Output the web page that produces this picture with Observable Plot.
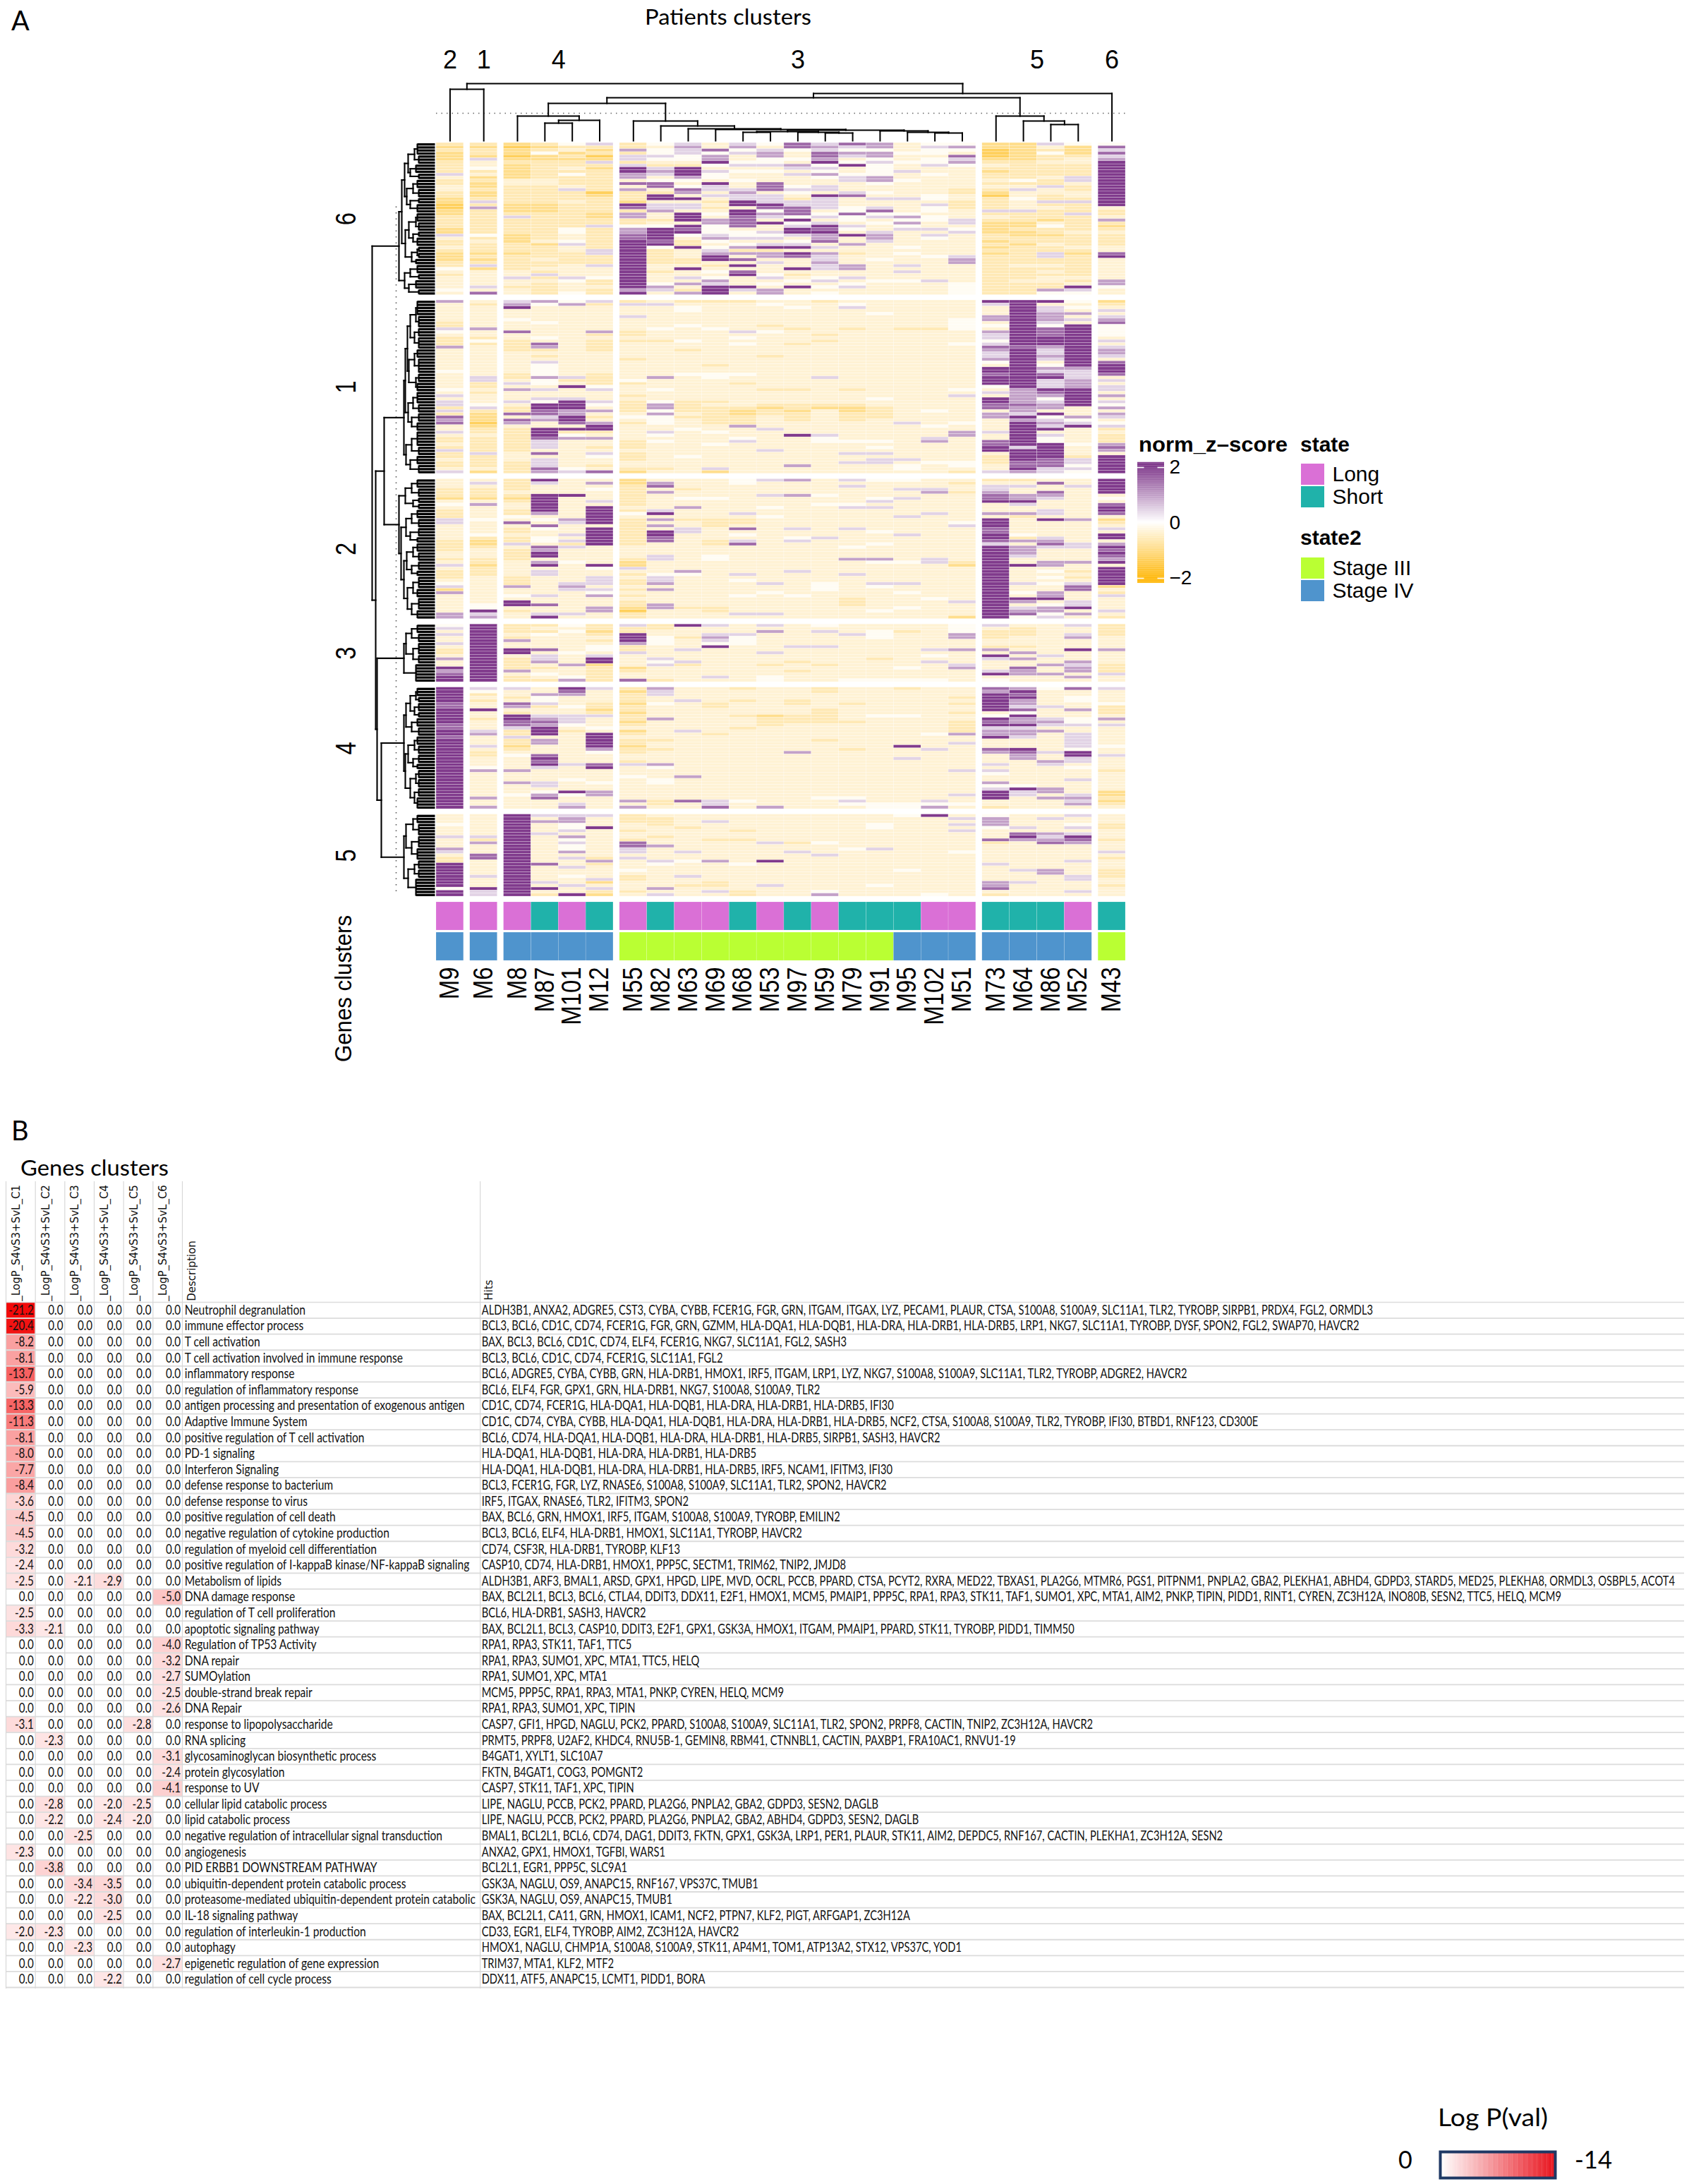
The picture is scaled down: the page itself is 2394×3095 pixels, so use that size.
<!DOCTYPE html>
<html><head><meta charset="utf-8">
<script src="https://cdn.jsdelivr.net/npm/d3@7"></script>
<script src="https://cdn.jsdelivr.net/npm/@observablehq/plot@0.6"></script>
<style>html,body{margin:0;padding:0;background:#fff}#page{position:relative;width:2394px;height:3095px;overflow:hidden;background:#fff}</style>
</head><body><div id="page"></div>
<script>
// ---------- patients ----------
const patientGroups=[["2",["M9"]],["1",["M6"]],["4",["M8","M87","M101","M12"]],["3",["M55","M82","M63","M69","M68","M53","M97","M59","M79","M91","M95","M102","M51"]],["5",["M73","M64","M86","M52"]],["6",["M43"]]];
const states=["Long","Long","Long","Short","Long","Short","Long","Short","Long","Long","Short","Long","Short","Long","Short","Short","Short","Long","Long","Short","Short","Short","Long","Short"];
const stages=["IV","IV","IV","IV","IV","IV","III","III","III","III","III","III","III","III","III","III","IV","IV","IV","IV","IV","IV","IV","III"];
// ---------- heat levels: one string per patient, one digit per gene row ----------
const levelValues=[-1.35,-0.95,-0.62,-0.36,-0.1,0.45,0.95,1.5,2.0];
const heatC6=[
"2121112222 5322332211 0011222211 5322321112 2432333343",
"2122153342 3121121125 2622222222 4232221212 5133333537",
"1011012111 1133222222 1112522222 1112221222 2233533233",
"2124112222 2233222222 1112222222 2231222232 2325232222",
"4231212232 4222352223 2222222244 3345332222 3333543334",
"5212015212 2222220122 2221122522 2222255222 5333422322",
"2262552588 6637362221 8726622466 7788888888 8888888868",
"4344543256 5347732883 5563323488 8878422222 3323334653",
"5655443288 8643476383 5538883878 4322833322 3833536326",
"3374668435 4438553532 3234366444 5643456883 2343465888",
"5645334534 3343356558 8388777734 4534626373 8378333853",
"4356644534 3337773555 8746538335 4535826635 3334534366",
"7743343653 5333454325 5777484588 5345838733 3832343833",
"5657768454 6433553855 5534535878 6673536556 5533453434",
"7546534833 4553335733 3447443543 8336332333 6633534533",
"6646645444 4664334353 3574534335 6653333343 3333343333",
"3334334335 3343333353 3334646453 3333434333 5353343333",
"4544344533 4333333443 5443443353 5433333433 3333353333",
"4643756433 3333322332 2233355345 3333333566 3333334444",
"1100012321 2232321022 2252321111 2212121222 2222222222",
"1111112222 2242353343 3352221121 1221222222 3222232222",
"5324223222 2322533225 2322213422 1223225522 3232332264",
"4111233222 2553223325 2225222223 2222321222 2222323854",
"4757568888 8888888888 8322362123 2222337833 3333366433"];
const heatC1=[
"6333333225 4322263333 3334333334 3535525276 7335322325 2232235",
"3233333336 3324233333 3333355223 2333452111 0122322222 5222231",
"5683334333 7332222333 3333223536 3335322737 6322222222 3332222",
"6433333433 3343762323 5444464435 3354887756 3388875553 7355576",
"4633333333 3333333333 3333352383 3358886688 7382463333 3333345",
"5233333333 6232222333 3333222245 3335436323 6882363323 5433237",
"2533353333 2232333332 3333334233 3232222343 2333332223 2223321",
"3533333334 3332333333 3333363334 3334664644 4335434333 3333323",
"2344333343 3334332333 3333433333 3332222323 3343333333 3433333",
"2333333334 3333333333 3233443333 3332322222 2334333433 3333351",
"2333333333 5343433333 3333433233 3333321122 2633345333 3333333",
"3433333323 4333333323 3333333332 3333212233 3353333335 3333333",
"3343333332 3333233333 3333333332 3333221222 3333833333 3333633",
"2333333333 3232333333 3333353333 3333213333 3333544333 3333333",
"3453333332 3333333333 3333333332 3333211222 3333334333 5335333",
"3333433333 3333333333 3333333333 3343322223 3333334343 5355333",
"3333333332 3333333333 3333333333 3333333333 5333333333 3353443",
"3333333332 3333333333 3333333333 3333334333 3433356333 3334333",
"3333334444 3333433333 3333333334 3533333333 4336633333 3334432",
"8533366343 6554576556 4388788843 5388773663 3335337788 3222335",
"8888888888 8888878888 8888888886 6666766586 8888888858 8887786",
"8355666547 7788865565 3465785558 7645663845 6583544888 8877755",
"4343635388 8888888888 8865556668 8888833364 5833333433 3255454",
"1235356744 4435356653 7888735355 3635463653 4523222676 3888888"];
const heatC2=[
"3332221343 2225533333 2222332353 2223451633 333366",
"3532221363 3334333342 1123332212 2233333333 344856",
"2222321233 2243732232 2532222333 3322263343 883233",
"8533388888 8634374334 4376883683 5533333353 373358",
"3333383333 3336533353 5253333433 3333565333 333353",
"3634333538 8888838888 8833333384 3355535463 336633",
"1122222223 2432222222 2233332115 3232232323 221022",
"3673633333 5836363887 7333355333 3455636333 366333",
"3332334336 3332335533 3333333333 6433333333 332333",
"3333334333 3332223333 2233344333 3333333333 332233",
"4433333333 3532237343 5733333333 3534333343 333353",
"5333353334 3343333333 3333333333 3333533433 333353",
"6333363333 3333335334 5333333333 5333333343 333333",
"3333343343 3333333335 3333333333 3333444333 333333",
"5353333345 3333335333 3343336333 3533333332 223333",
"4333334535 3333333433 3433336433 3333543333 333433",
"4335335333 3353333353 3333333433 3333533433 334333",
"3335633333 3533333333 3333335533 3333333334 333333",
"3233233333 3333453333 3333333213 3333333333 533331",
"2355677833 3638887788 7588888888 8888888888 888888",
"2353366853 3623333342 6366653383 3333533438 635674",
"3733765333 5538333335 6753333663 4343433668 346645",
"3353333333 3336333333 3553333633 2323577333 558363",
"8888834378 8731235388 3687876838 8888813253 333532"];
const heatC3=[
"4535335322 363386788",
"8888888888 888888888",
"2223263388 322226322",
"2324333373 556323432",
"4343333334 333633346",
"2212323443 588122222",
"5228886225 333312337",
"2233444333 354533332",
"8333233353 335233333",
"5335654833 333333353",
"3335444333 333333333",
"5363333335 333233344",
"3333333533 332332333",
"4353333533 333233333",
"3335333333 333333334",
"3344433333 323333334",
"3323333333 333343334",
"3333333353 435333334",
"4446633363 333563333",
"5322233263 853335834",
"3222333236 363376633",
"3333333333 533633633",
"5335633383 336566363",
"2222333363 333222533"];
const heatC4=[
"8888877888 8877887888 8888888888 8888888888",
"5423233833 2333563335 3223334633 3333336336",
"5332376328 8775225221 2343333633 3633343333",
"3364452335 6768883663 3378785333 3553467333",
"8763334335 5543233333 3333353333 4333843356",
"5333322125 3334388888 6433378333 3433663333",
"2122212212 2123123221 2233253334 3333333636",
"6553343333 6333333233 2333364333 4433333223",
"3333533333 3333533333 3333333336 3333333733",
"3333322333 3333323333 3333333333 3333333557",
"2333233332 3332333333 3333333333 3333333433",
"3333333331 2223333333 3333333333 3333333336",
"3333223332 2233333333 3633333333 3333333333",
"2233333222 2233333233 3333333333 3333334333",
"3333323333 3233333333 2333333333 3333334543",
"3333333334 3333333333 3333333333 3333333344",
"2333333334 3333333338 3335333333 3333333344",
"3333333333 3333343333 5333333333 3333333546",
"3332323323 3222263353 3333333533 3333353343",
"7688888834 8785668333 7633353543 3645888332",
"6878665748 6685665333 8766333333 3348553333",
"4333335333 5653633333 3533653333 3336636333",
"7334433633 4453355555 4885534333 5333356563",
"5333342223 6353333334 3353333233 3333112123"];
const heatC5=[
"3334333533 3653228888 8888488",
"3333333526 3337733333 5333855",
"8888888888 8888888888 8888888",
"5363335333 3333337333 3353832",
"5664453645 4463533533 4335338",
"5333833333 3333262333 3513521",
"2223323327 7553533343 2233323",
"3222333233 6333354333 3333635",
"3333233333 3353343333 5332333",
"3353333323 3333363333 3322353",
"3333323323 3333334333 3333322",
"3333333335 3333383333 3335333",
"3333333332 3353333333 3333333",
"3333333334 3335333333 3333346",
"3333333333 3433333333 3333333",
"3334433333 3533333333 3334333",
"4333333333 3333333343 3333333",
"8333333333 3333333333 3333334",
"3535353333 3343333333 3333333",
"4666433372 3333335333 3366732",
"3333537863 3333333353 3353333",
"3533336567 3333333366 3333333",
"5334535876 3333353333 5533353",
"3332233323 3353233322 2332333"];
// ---------- gene clusters ----------
const geneClusters=["6","1","2","3","4","5"];
const geneRows=[50,57,46,19,40,27];
const heatByCluster=[heatC6,heatC1,heatC2,heatC3,heatC4,heatC5];
// ---------- dendrograms: [mergeHeight, left, right]; gene leaves are [mergeHeight, leafCount] ----------
const colTree=[81,[73,"M9","M6"],[67,[61,[53,[35,"M8",[29,[25,"M87","M101"],"M12"]],[28,"M55",[21,"M82",[17,"M63",[16,"M69",[15,[13,[12,"M68","M53"],[12,"M97",[11,"M59","M79"]]],[14,"M91",[12,"M95",[11,"M102","M51"]]]]]]]]],[35,"M73",[28,"M64",[23,"M86","M52"]]]],"M43"]];
const treeC6=[51,[47,[43,[38,[29,[25,4],[23,3]],[35,[27,3],[23,2]]],[40,[31,[25,3],[23,3]],[35,[23,2],[25,3]]]],[42,[37,[27,[25,3],[23,3]],[31,[23,2],[25,3]]],[33,[25,[23,2],[23,2]],[27,2]]]],[43,[35,[25,3],[23,2]],[37,[27,3],[23,2]]]];
const treeC1=[44,[42,[39,[35,[27,[25,5],[23,4]],[29,[23,3],[23,4]]],[37,[29,[25,3],[23,5]],[27,[23,3],[25,3]]]],[38,[31,[25,4],[23,3]],[33,[23,3],[25,3]]]],[41,[33,[25,5],[23,3]],[35,[25,3],[23,3]]]];
const treeC2=[51,[42,[33,[25,3],[23,3]],[31,[23,2],[23,2]]],[48,[41,[33,[25,3],[23,3]],[35,[23,3],[25,2]]],[44,[40,[31,[25,3],[23,3]],[33,[23,3],[25,2]]],[39,[31,[23,4],[25,3]],[33,[23,4],[25,3]]]]]];
const treeC3=[44,[41,[33,[25,3],[23,3]],[31,[23,4],[23,3]]],[27,6]];
const treeC4=[44,[41,[35,[27,[25,3],[23,2]],[29,[23,3],[23,2]]],[33,[25,3],[23,3]]],[42,[38,[29,[25,3],[23,3]],[31,[23,3],[25,2]]],[35,[27,[23,3],[23,3]],[29,[23,3],[25,4]]]]];
const treeC5=[44,[41,[31,[25,3],[23,4]],[33,[23,4],[25,4]]],[38,[29,[23,3],[23,3]],[27,6]]];
const geneTrees=[treeC6,treeC1,treeC2,treeC3,treeC4,treeC5];
const clusterTree=[89,0,[84,[72,1,2],[82,3,[76,4,5]]]];
// ---------- enrichment table ----------
const terms=["Neutrophil degranulation","immune effector process","T cell activation","T cell activation involved in immune response","inflammatory response","regulation of inflammatory response","antigen processing and presentation of exogenous antigen","Adaptive Immune System","positive regulation of T cell activation","PD-1 signaling","Interferon Signaling","defense response to bacterium","defense response to virus","positive regulation of cell death","negative regulation of cytokine production","regulation of myeloid cell differentiation","positive regulation of I-kappaB kinase/NF-kappaB signaling","Metabolism of lipids","DNA damage response","regulation of T cell proliferation","apoptotic signaling pathway","Regulation of TP53 Activity","DNA repair","SUMOylation","double-strand break repair","DNA Repair","response to lipopolysaccharide","RNA splicing","glycosaminoglycan biosynthetic process","protein glycosylation","response to UV","cellular lipid catabolic process","lipid catabolic process","negative regulation of intracellular signal transduction","angiogenesis","PID ERBB1 DOWNSTREAM PATHWAY","ubiquitin-dependent protein catabolic process","proteasome-mediated ubiquitin-dependent protein catabolic","IL-18 signaling pathway","regulation of interleukin-1 production","autophagy","epigenetic regulation of gene expression","regulation of cell cycle process"];
const logpC1=[-21.2,-20.4,-8.2,-8.1,-13.7,-5.9,-13.3,-11.3,-8.1,-8.0,-7.7,-8.4,-3.6,-4.5,-4.5,-3.2,-2.4,-2.5,0,-2.5,-3.3,0,0,0,0,0,-3.1,0,0,0,0,0,0,0,-2.3,0,0,0,0,-2.0,0,0,0];
const logpC2={21:-2.1,28:-2.3,32:-2.8,33:-2.2,36:-3.8,40:-2.3};
const logpC3={18:-2.1,34:-2.5,37:-3.4,38:-2.2,41:-2.3};
const logpC4={18:-2.9,32:-2.0,33:-2.4,37:-3.5,38:-3.0,39:-2.5,43:-2.2};
const logpC5={27:-2.8,32:-2.5,33:-2.0};
const logpC6={19:-5.0,22:-4.0,23:-3.2,24:-2.7,25:-2.5,26:-2.6,29:-3.1,30:-2.4,31:-4.1,42:-2.7};
const hits=["ALDH3B1, ANXA2, ADGRE5, CST3, CYBA, CYBB, FCER1G, FGR, GRN, ITGAM, ITGAX, LYZ, PECAM1, PLAUR, CTSA, S100A8, S100A9, SLC11A1, TLR2, TYROBP, SIRPB1, PRDX4, FGL2, ORMDL3",
"BCL3, BCL6, CD1C, CD74, FCER1G, FGR, GRN, GZMM, HLA-DQA1, HLA-DQB1, HLA-DRA, HLA-DRB1, HLA-DRB5, LRP1, NKG7, SLC11A1, TYROBP, DYSF, SPON2, FGL2, SWAP70, HAVCR2",
"BAX, BCL3, BCL6, CD1C, CD74, ELF4, FCER1G, NKG7, SLC11A1, FGL2, SASH3",
"BCL3, BCL6, CD1C, CD74, FCER1G, SLC11A1, FGL2",
"BCL6, ADGRE5, CYBA, CYBB, GRN, HLA-DRB1, HMOX1, IRF5, ITGAM, LRP1, LYZ, NKG7, S100A8, S100A9, SLC11A1, TLR2, TYROBP, ADGRE2, HAVCR2",
"BCL6, ELF4, FGR, GPX1, GRN, HLA-DRB1, NKG7, S100A8, S100A9, TLR2",
"CD1C, CD74, FCER1G, HLA-DQA1, HLA-DQB1, HLA-DRA, HLA-DRB1, HLA-DRB5, IFI30",
"CD1C, CD74, CYBA, CYBB, HLA-DQA1, HLA-DQB1, HLA-DRA, HLA-DRB1, HLA-DRB5, NCF2, CTSA, S100A8, S100A9, TLR2, TYROBP, IFI30, BTBD1, RNF123, CD300E",
"BCL6, CD74, HLA-DQA1, HLA-DQB1, HLA-DRA, HLA-DRB1, HLA-DRB5, SIRPB1, SASH3, HAVCR2",
"HLA-DQA1, HLA-DQB1, HLA-DRA, HLA-DRB1, HLA-DRB5",
"HLA-DQA1, HLA-DQB1, HLA-DRA, HLA-DRB1, HLA-DRB5, IRF5, NCAM1, IFITM3, IFI30",
"BCL3, FCER1G, FGR, LYZ, RNASE6, S100A8, S100A9, SLC11A1, TLR2, SPON2, HAVCR2",
"IRF5, ITGAX, RNASE6, TLR2, IFITM3, SPON2",
"BAX, BCL6, GRN, HMOX1, IRF5, ITGAM, S100A8, S100A9, TYROBP, EMILIN2",
"BCL3, BCL6, ELF4, HLA-DRB1, HMOX1, SLC11A1, TYROBP, HAVCR2",
"CD74, CSF3R, HLA-DRB1, TYROBP, KLF13",
"CASP10, CD74, HLA-DRB1, HMOX1, PPP5C, SECTM1, TRIM62, TNIP2, JMJD8",
"ALDH3B1, ARF3, BMAL1, ARSD, GPX1, HPGD, LIPE, MVD, OCRL, PCCB, PPARD, CTSA, PCYT2, RXRA, MED22, TBXAS1, PLA2G6, MTMR6, PGS1, PITPNM1, PNPLA2, GBA2, PLEKHA1, ABHD4, GDPD3, STARD5, MED25, PLEKHA8, ORMDL3, OSBPL5, ACOT4",
"BAX, BCL2L1, BCL3, BCL6, CTLA4, DDIT3, DDX11, E2F1, HMOX1, MCM5, PMAIP1, PPP5C, RPA1, RPA3, STK11, TAF1, SUMO1, XPC, MTA1, AIM2, PNKP, TIPIN, PIDD1, RINT1, CYREN, ZC3H12A, INO80B, SESN2, TTC5, HELQ, MCM9",
"BCL6, HLA-DRB1, SASH3, HAVCR2",
"BAX, BCL2L1, BCL3, CASP10, DDIT3, E2F1, GPX1, GSK3A, HMOX1, ITGAM, PMAIP1, PPARD, STK11, TYROBP, PIDD1, TIMM50",
"RPA1, RPA3, STK11, TAF1, TTC5",
"RPA1, RPA3, SUMO1, XPC, MTA1, TTC5, HELQ",
"RPA1, SUMO1, XPC, MTA1",
"MCM5, PPP5C, RPA1, RPA3, MTA1, PNKP, CYREN, HELQ, MCM9",
"RPA1, RPA3, SUMO1, XPC, TIPIN",
"CASP7, GFI1, HPGD, NAGLU, PCK2, PPARD, S100A8, S100A9, SLC11A1, TLR2, SPON2, PRPF8, CACTIN, TNIP2, ZC3H12A, HAVCR2",
"PRMT5, PRPF8, U2AF2, KHDC4, RNU5B-1, GEMIN8, RBM41, CTNNBL1, CACTIN, PAXBP1, FRA10AC1, RNVU1-19",
"B4GAT1, XYLT1, SLC10A7",
"FKTN, B4GAT1, COG3, POMGNT2",
"CASP7, STK11, TAF1, XPC, TIPIN",
"LIPE, NAGLU, PCCB, PCK2, PPARD, PLA2G6, PNPLA2, GBA2, GDPD3, SESN2, DAGLB",
"LIPE, NAGLU, PCCB, PCK2, PPARD, PLA2G6, PNPLA2, GBA2, ABHD4, GDPD3, SESN2, DAGLB",
"BMAL1, BCL2L1, BCL6, CD74, DAG1, DDIT3, FKTN, GPX1, GSK3A, LRP1, PER1, PLAUR, STK11, AIM2, DEPDC5, RNF167, CACTIN, PLEKHA1, ZC3H12A, SESN2",
"ANXA2, GPX1, HMOX1, TGFBI, WARS1",
"BCL2L1, EGR1, PPP5C, SLC9A1",
"GSK3A, NAGLU, OS9, ANAPC15, RNF167, VPS37C, TMUB1",
"GSK3A, NAGLU, OS9, ANAPC15, TMUB1",
"BAX, BCL2L1, CA11, GRN, HMOX1, ICAM1, NCF2, PTPN7, KLF2, PIGT, ARFGAP1, ZC3H12A",
"CD33, EGR1, ELF4, TYROBP, AIM2, ZC3H12A, HAVCR2",
"HMOX1, NAGLU, CHMP1A, S100A8, S100A9, STK11, AP4M1, TOM1, ATP13A2, STX12, VPS37C, YOD1",
"TRIM37, MTA1, KLF2, MTF2",
"DDX11, ATF5, ANAPC15, LCMT1, PIDD1, BORA"];

// ---------- layout ----------
const page=document.getElementById("page");
const PW=2394;
const base={width:PW,marginTop:0,marginBottom:0,marginLeft:0,marginRight:0,
  style:{position:"absolute",left:"0",top:"0",background:"transparent",overflow:"visible",maxWidth:"none",height:"auto"}};
function place(p){page.appendChild(p);return p;}
function fit(p,cls,k){p.querySelectorAll("."+cls+" text").forEach(t=>{
  const w=t.getComputedTextLength();t.setAttribute("textLength",(w*k).toFixed(1));t.setAttribute("lengthAdjust","spacingAndGlyphs");});}

// column slots with gaps between patient clusters
const GAP=0.23;
const slots=[];let slotCursor=0;
patientGroups.forEach(([lab,cols])=>{cols.forEach(c=>{slots.push({name:c,x1:slotCursor,x2:slotCursor+1,mid:slotCursor+.5});slotCursor+=1;});slotCursor+=GAP;});
const slotTotal=slotCursor-GAP;
const slotOf=Object.fromEntries(slots.map(s=>[s.name,s]));
const xSlot={domain:[0,slotTotal],range:[618,1595],axis:null};

// gene row offsets with gaps between gene clusters
const RGAP=1.75;
const rowOffsets=[];let rowCursor=0;
geneRows.forEach(n=>{rowOffsets.push(rowCursor);rowCursor+=n+RGAP;});
const rowTotal=rowCursor-RGAP;
const yRow={domain:[0,rowTotal],range:[202,1270],axis:null};

// heat cells
const cells=[];
heatByCluster.forEach((cols,g)=>cols.forEach((str,c)=>{
  const s=str.replace(/\D/g,"");
  for(let i=0;i<geneRows[g]&&i<s.length;i++){
    cells.push({slot:slots[c],y1:rowOffsets[g]+i,y2:rowOffsets[g]+i+1,v:levelValues[+s[i]]});
  }}));
const heatColor={type:"linear",domain:[-2,0,2],range:["#ffb90f","#ffffff","#803a8c"],clamp:true};
place(Plot.plot({...base,height:1290,x:xSlot,y:yRow,color:heatColor,marks:[
  Plot.rect(cells,{x1:d=>d.slot.x1,x2:d=>d.slot.x2,y1:"y1",y2:"y2",fill:"v",stroke:"#fff",strokeWidth:.45,strokeOpacity:.55})
]}));

// annotation tracks + patient labels
const tracks=[];
slots.forEach((s,i)=>{tracks.push({slot:s,track:"state",value:states[i]});tracks.push({slot:s,track:"state2",value:"Stage "+stages[i]});});
const annColor={domain:["Long","Short","Stage III","Stage IV"],range:["#da70d6","#20b2aa","#baff33","#4f94cd"]};
const annPlot=place(Plot.plot({...base,height:1500,x:xSlot,
  y:{type:"band",domain:["state","state2"],range:[1278,1361],paddingInner:.07,paddingOuter:0,round:false,axis:null},color:annColor,marks:[
  Plot.barX(tracks,{x1:d=>d.slot.x1,x2:d=>d.slot.x2,y:"track",fill:"value",stroke:"#fff",strokeWidth:.4,strokeOpacity:.4}),
  Plot.text(slots,{x:"mid",y:()=>"state2",dy:29,text:"name",rotate:-90,textAnchor:"end",fontSize:38,fontFamily:"Liberation Sans",fill:"#000",className:"pat"})
]}));
fit(annPlot,"pat",.865);

// column dendrogram
const colSegs=[];
(function walk(n){
  if(typeof n==="string")return{x:slotOf[n].mid,h:0};
  const [h,a,b]=n;const l=walk(a),r=walk(b);
  colSegs.push({x1:l.x,x2:l.x,y1:l.h,y2:h},{x1:r.x,x2:r.x,y1:r.h,y2:h},{x1:l.x,x2:r.x,y1:h,y2:h});
  return{x:(l.x+r.x)/2,h};
})(colTree);
const groupMarks=patientGroups.map(([lab,cols])=>({lab,x:(slotOf[cols[0]].mid+slotOf[cols[cols.length-1]].mid)/2}));
place(Plot.plot({...base,height:210,x:xSlot,y:{domain:[0,150],range:[199,49],axis:null},marks:[
  Plot.ruleY([39],{x1:0,x2:slotTotal,stroke:"#666",strokeWidth:1.5,strokeDasharray:"1.5 6"}),
  Plot.link(colSegs,{x1:"x1",x2:"x2",y1:"y1",y2:"y2",stroke:"#000",strokeWidth:2,strokeLinecap:"square"}),
  Plot.text(groupMarks,{x:"x",y:()=>103,text:"lab",lineAnchor:"bottom",fontSize:36,fontFamily:"Liberation Sans",fill:"#000"})
]}));

// gene dendrogram
const geneSegs=[];
function joinGene(h,l,r){geneSegs.push({x1:l.h,x2:h,y1:l.y,y2:l.y},{x1:r.h,x2:h,y1:r.y,y2:r.y},{x1:h,x2:h,y1:l.y,y2:r.y});return{y:(l.y+r.y)/2,h};}
function layoutCluster(tree,offset){let cur=offset;
  function walk(n){
    if(n.length===2){const [h,cnt]=n;const ys=[];for(let i=0;i<cnt;i++){const y=cur+.5;ys.push(y);geneSegs.push({x1:0,x2:h,y1:y,y2:y,leaf:true});cur++;}
      geneSegs.push({x1:h,x2:h,y1:ys[0],y2:ys[cnt-1]});return{y:(ys[0]+ys[cnt-1])/2,h};}
    return joinGene(n[0],walk(n[1]),walk(n[2]));
  }
  return walk(tree);}
const clusterRoots=geneTrees.map((t,g)=>layoutCluster(t,rowOffsets[g]));
(function top(n){if(typeof n==="number")return clusterRoots[n];return joinGene(n[0],top(n[1]),top(n[2]));})(clusterTree);
const clusterLabels=geneClusters.map((lab,g)=>({lab,y:rowOffsets[g]+geneRows[g]/2}));
const genePlot=place(Plot.plot({...base,height:1290,x:{domain:[0,126],range:[616,490],axis:null},y:yRow,marks:[
  Plot.ruleX([55],{y1:21,y2:rowTotal,stroke:"#555",strokeWidth:1.6,strokeDasharray:"1.5 7"}),
  Plot.link(geneSegs.filter(d=>d.leaf),{x1:"x1",x2:"x2",y1:"y1",y2:"y2",stroke:"#000",strokeWidth:3.3}),
  Plot.link(geneSegs.filter(d=>!d.leaf),{x1:"x1",x2:"x2",y1:"y1",y2:"y2",stroke:"#000",strokeWidth:2.1,strokeLinecap:"square"}),
  Plot.text(clusterLabels,{x:()=>113,y:"y",text:"lab",rotate:-90,lineAnchor:"bottom",fontSize:40,fontFamily:"Liberation Sans",fill:"#000",className:"gc"})
]}));
fit(genePlot,"gc",.82);

// colour bar legend
place(Plot.plot({...base,height:840,marginLeft:1612,marginRight:PW-1650,marginTop:655,marginBottom:14,
  x:{domain:[0,1],axis:null},y:{domain:[-2,2],range:[819,662],axis:null},color:heatColor,marks:[
  Plot.rect(d3.range(-2.18,2.18,.04),{x1:0,x2:1,y1:d=>d,y2:d=>d+.045,fill:d=>d}),
  Plot.ruleY([-2,2],{x1:0,x2:.25,stroke:"#fff",strokeWidth:1.6}),
  Plot.ruleY([-2,2],{x1:.75,x2:1,stroke:"#fff",strokeWidth:1.6}),
  Plot.text([2,0,-2],{x:()=>1,y:d=>d,dx:7,text:d=>d<0?"\u2212"+(-d):String(d),textAnchor:"start",fontSize:28,fontFamily:"Liberation Sans",fill:"#000"})
]}));
// swatch legends
function swatches(items,y0,y1){
  return place(Plot.plot({...base,height:880,marginLeft:1844,marginRight:PW-1877,x:{domain:[0,1],axis:null},
    y:{type:"band",domain:items,range:[y0,y1],paddingInner:.06,paddingOuter:0,round:false,axis:null},color:annColor,marks:[
    Plot.barX(items,{x1:0,x2:1,y:d=>d,fill:d=>d}),
    Plot.text(items,{x:()=>1,y:d=>d,dx:11,text:d=>d,textAnchor:"start",fontSize:30,fontFamily:"Liberation Sans",fill:"#000"})
  ]}));
}
swatches(["Long","Short"],657,719);
swatches(["Stage III","Stage IV"],790,852);

// table
const logpCols=["C1","C2","C3","C4","C5","C6"];
const logpSparse={C2:logpC2,C3:logpC3,C4:logpC4,C5:logpC5,C6:logpC6};
const rowIdx=d3.range(terms.length);
const tableCells=[];
rowIdx.forEach(r=>logpCols.forEach(c=>{
  const v=c==="C1"?logpC1[r]:(logpSparse[c][r+1]||0);
  tableCells.push({r,c,v,label:v===0?"0.0":v.toFixed(1)});}));
const tableFont="Lato";
const tablePlot=place(Plot.plot({...base,height:2818,marginTop:1674,marginLeft:8,marginRight:7,
  x:{type:"band",domain:logpCols,range:[8,258],paddingInner:0,paddingOuter:0,round:false,axis:null},
  y:{type:"band",domain:rowIdx,range:[1845,2816],paddingInner:0,paddingOuter:0,round:false,axis:null},
  color:{type:"linear",domain:[0,-21.2],range:["#ffffff","#f20a0a"],clamp:true},
  marks:[
    Plot.cell(tableCells,{x:"c",y:"r",fill:"v"}),
    Plot.ruleY(rowIdx,{y:d=>d,dy:11.3,stroke:"#dcdcdc",strokeWidth:1.8}),
    Plot.ruleY([0],{y:d=>d,dy:-11.3,stroke:"#dcdcdc",strokeWidth:1.5}),
    Plot.ruleX(logpCols,{x:d=>d,dx:-20.83,stroke:"#d8d8d8",strokeWidth:1.2}),
    Plot.ruleX(["C6"],{x:d=>d,dx:20.83,stroke:"#d8d8d8",strokeWidth:1.2}),
    Plot.ruleX(["C6"],{x:d=>d,dx:443,stroke:"#d8d8d8",strokeWidth:1.2}),
    Plot.text(tableCells,{x:"c",y:"r",dx:18.5,text:"label",textAnchor:"end",fontSize:19,fontFamily:tableFont,fill:"#111",className:"tb"}),
    Plot.text(rowIdx,{x:()=>"C6",y:d=>d,dx:24,text:d=>terms[d],textAnchor:"start",fontSize:19,fontFamily:tableFont,fill:"#111",className:"tt"}),
    Plot.text(rowIdx,{x:()=>"C6",y:d=>d,dx:445,text:d=>hits[d],textAnchor:"start",fontSize:19,fontFamily:tableFont,fill:"#111",className:"th"}),
    Plot.text(logpCols,{x:d=>d,y:()=>0,dx:-6,dy:-13,text:d=>"_LogP_S4vS3+SvL_"+d,rotate:-90,textAnchor:"start",fontSize:15,fontFamily:"DejaVu Sans",fill:"#111"}),
    Plot.text(["Description"],{x:()=>"C6",y:()=>0,dx:35,dy:-13,text:d=>d,rotate:-90,textAnchor:"start",fontSize:15,fontFamily:"DejaVu Sans",fill:"#111"}),
    Plot.text(["Hits"],{x:()=>"C6",y:()=>0,dx:456,dy:-14,text:d=>d,rotate:-90,textAnchor:"start",fontSize:15,fontFamily:"DejaVu Sans",fill:"#111"})
  ]}));
fit(tablePlot,"tb",.8);
fit(tablePlot,"tt",.82);
fit(tablePlot,"th",.775);

// log P legend
place(Plot.plot({...base,height:3090,marginLeft:2041,marginRight:PW-2204,marginTop:3049,marginBottom:4,
  x:{domain:[0,-14],axis:null},y:{domain:[0,1],axis:null},color:{type:"linear",domain:[0,-14],range:["#ffffff","#e8101a"]},marks:[
  Plot.rect(d3.range(0,-14,-.2),{x1:d=>d,x2:d=>d-.22,y1:0,y2:1,fill:d=>d}),
  Plot.frame({stroke:"#1f3864",strokeWidth:4})
]}));

// page labels
const overlay=d3.create("svg").attr("width",PW).attr("height",3095).style("position","absolute").style("left",0).style("top",0);
function label(t,x,y,size,o={}){
  const e=overlay.append("text").attr("x",x).attr("y",y).attr("font-size",size).attr("font-family",o.font||"Lato").attr("font-weight",o.weight||400).attr("fill","#000").text(t);
  if(o.rotate)e.attr("transform",`rotate(${o.rotate} ${x} ${y})`);
  if(o.len){e.attr("textLength",o.len).attr("lengthAdjust","spacingAndGlyphs");}
  return e;
}
label("A",16,43,38);
label("B",16,1616,38);
label("Patients clusters",914,35,31,{len:236});
label("Genes clusters",29,1666,31,{len:210});
label("Genes clusters",498,1505,33,{font:"Liberation Sans",rotate:-90,len:208});
label("norm_z\u2013score",1614,640,30,{font:"Liberation Sans",weight:700,len:211});
label("state",1843,640,30,{font:"Liberation Sans",weight:700});
label("state2",1843,772,30,{font:"Liberation Sans",weight:700});
label("Log P(val)",2038,3013,34,{len:156});
label("0",1982,3073,34);
label("-14",2232,3073,34,{len:53});
page.appendChild(overlay.node());
</script></body></html>
